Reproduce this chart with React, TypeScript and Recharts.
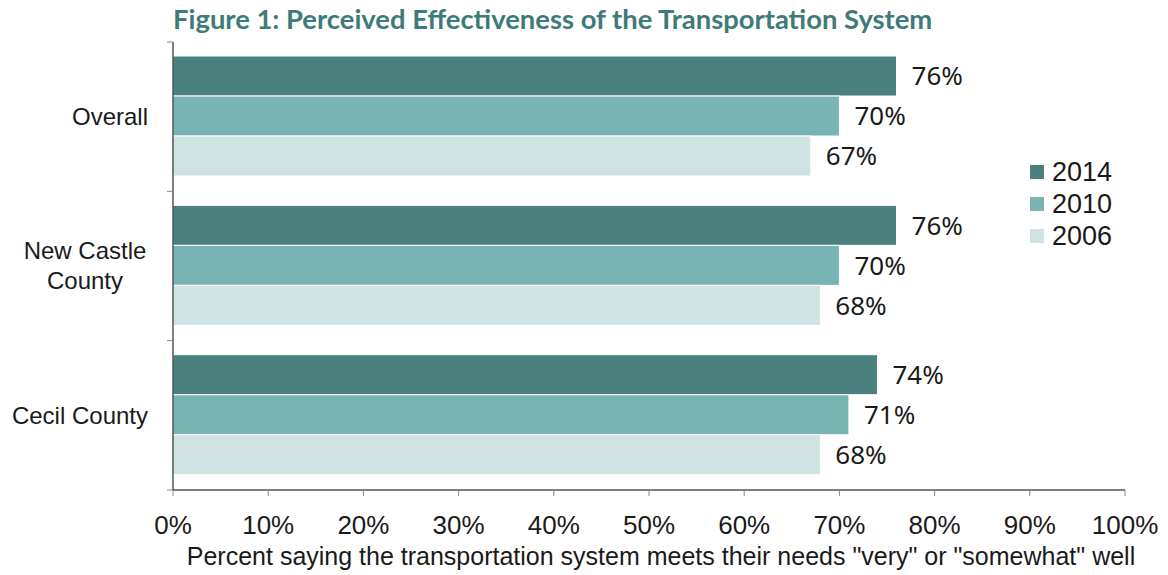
import { BarChart, Bar, XAxis, YAxis, LabelList } from 'recharts';

const regions = ['Overall', 'New Castle County', 'Cecil County'];
const years = ['2014', '2010', '2006'];
const pct2014 = [76, 76, 74];
const pct2010 = [70, 70, 71];
const pct2006 = [67, 68, 68];
const xTicks = [0, 10, 20, 30, 40, 50, 60, 70, 80, 90, 100];

const colors: Record<string, string> = {
  '2014': '#4A817E',
  '2010': '#78B4B3',
  '2006': '#CFE4E2',
};

const data = regions.map((region, i) => ({
  region,
  '2014': pct2014[i],
  '2010': pct2010[i],
  '2006': pct2006[i],
}));

const LABEL_FONT = '"Liberation Sans", Arial, sans-serif';
const VALUE_FONT = '"Noto Sans", "Open Sans", sans-serif';

// category label right-aligned, with boundary tick marks like the Excel original
const RegionTick = (props: any) => {
  const { x, y, payload, index } = props;
  const half = payload.offset || 448 / 6;
  const axisX = x + 25;
  const words = String(payload.value);
  const lines = words === 'New Castle County' ? ['New Castle', 'County'] : [words];
  return (
    <g>
      <line x1={axisX - 6} x2={axisX} y1={y - half} y2={y - half} stroke="#888" />
      {index === regions.length - 1 && (
        <line x1={axisX - 6} x2={axisX} y1={y + half} y2={y + half} stroke="#888" />
      )}
      {lines.length === 1 ? (
        <text x={x} y={y} dy="0.35em" textAnchor="end" fontSize={24} fill="#1a1a1a" fontFamily={LABEL_FONT}>
          {lines[0]}
        </text>
      ) : (
        lines.map((l, k) => (
          <text
            key={l}
            x={x - 63}
            y={y + (k - (lines.length - 1) / 2) * 30}
            dy="0.35em"
            textAnchor="middle"
            fontSize={24}
            fill="#1a1a1a"
            fontFamily={LABEL_FONT}
          >
            {l}
          </text>
        ))
      )}
    </g>
  );
};

const LegendBox = () => (
  <div
    style={{
      position: 'absolute',
      left: 1030,
      top: 156,
      fontFamily: LABEL_FONT,
      fontSize: 27,
      lineHeight: '31px',
      color: '#1a1a1a',
    }}
  >
    {years.map((yr) => (
      <div key={yr} style={{ display: 'flex', alignItems: 'center', height: 32 }}>
        <span style={{ width: 14, height: 14, background: colors[yr], marginRight: 8, display: 'inline-block' }} />
        <span>{yr}</span>
      </div>
    ))}
  </div>
);

export default function App() {
  return (
    <div style={{ position: 'relative', width: 1168, height: 575, background: '#fff' }}>
      <style>{'body{margin:0}'}</style>
      <div
        style={{
          position: 'absolute',
          left: 173,
          top: 1,
          fontFamily: 'Lato, "Open Sans", sans-serif',
          fontWeight: 700,
          fontSize: 27.4,
          lineHeight: '36px',
          color: '#3E7B78',
          whiteSpace: 'nowrap',
        }}
      >
        Figure 1: Perceived Effectiveness of the Transportation System
      </div>
      <BarChart
        width={1168}
        height={575}
        data={data}
        layout="vertical"
        margin={{ top: 42, right: 43, bottom: 0, left: 0 }}
        barCategoryGap="9.4%"
        barGap={0}
      >
        <XAxis
          type="number"
          domain={[0, 100]}
          ticks={xTicks}
          interval={0}
          height={85}
          tickFormatter={(v) => `${v}%`}
          axisLine={{ stroke: '#000' }}
          tickLine={{ stroke: '#888' }}
          tickSize={6}
          tickMargin={20}
          tick={{ fontSize: 26, fill: '#1a1a1a', fontFamily: LABEL_FONT }}
          label={{
            value: 'Percent saying the transportation system meets their needs "very" or "somewhat" well',
            position: 'insideBottom',
            offset: 10,
            dx: 12,
            fontSize: 25,
            fill: '#1a1a1a',
            fontFamily: LABEL_FONT,
          }}
        />
        <YAxis
          type="category"
          dataKey="region"
          width={173}
          axisLine={{ stroke: '#000' }}
          tickLine={false}
          tickSize={0}
          tickMargin={25}
          tick={<RegionTick />}
        />
        {years.map((yr) => (
          <Bar key={yr} dataKey={yr} name={yr} fill={colors[yr]} stroke="#fff" strokeWidth={1} isAnimationActive={false}>
            <LabelList
              dataKey={yr}
              position="right"
              offset={15}
              formatter={(v: any) => `${v}%`}
              style={{ fontSize: 26, fill: '#1a1a1a', fontFamily: VALUE_FONT }}
            />
          </Bar>
        ))}
      </BarChart>
      <LegendBox />
    </div>
  );
}
